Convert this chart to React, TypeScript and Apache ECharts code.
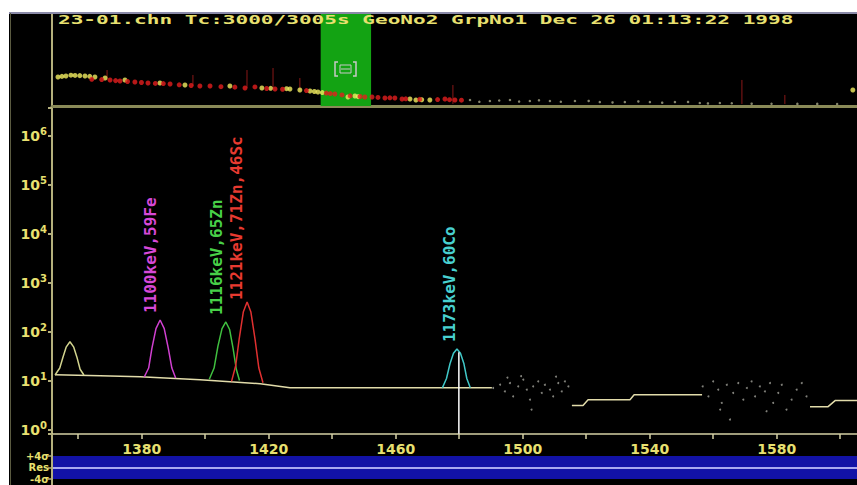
import React, { useEffect, useRef } from 'react';
import * as echarts from 'echarts';

// ---------- texts ----------
const headerText = '23-01.chn Tc:3000/3005s GeoNo2 GrpNo1 Dec 26 01:13:22 1998';
const peakLabels = ['1100keV,59Fe', '1116keV,65Zn', '1121keV,71Zn,46Sc', '1173keV,60Co'];

// ---------- axes ----------
const energyRange = [1351.75, 1605.3];
const overviewRange = [0, 4050];
const xTickValues = [1360, 1380, 1400, 1420, 1440, 1460, 1480, 1500, 1520, 1540, 1560, 1580, 1600];
const xLabelValues = [1380, 1420, 1460, 1500, 1540, 1580];
const countRange = [0.81, 3.67e6];
const residualTicks = [-4, 0, 4];
const residualLabels = ['-4σ', 'Res', '+4σ'];

// ---------- overview (whole spectrum) ----------
const ovYellow = [[30, 31.5], [50, 32.2], [70, 32.6], [95, 33.5], [116, 33.2], [140, 33.0], [166, 32.6], [190, 32.2], [216, 31.5], [267, 30.4], [367, 28.3], [543, 25.0], [669, 22.8], [895, 21.7], [1056, 19.6], [1100, 19.2], [1180, 18.8], [1197, 18.5], [1247, 17.4], [1298, 16.3], [1320, 15.8], [1338, 15.2], [1360, 14.6], [1489, 9.8], [1524, 10.9], [1540, 10.2], [1801, 7.6], [1831, 6.5], [1860, 6.8], [1901, 6.5], [4029, 17.4]];
const ovRed = [[200, 29.0], [250, 28.7], [292, 28.3], [320, 27.6], [342, 27.2], [380, 26.6], [417, 26.1], [450, 25.5], [483, 25.0], [520, 24.5], [560, 24.4], [594, 23.9], [640, 23.0], [700, 22.3], [744, 21.7], [795, 21.7], [850, 21.0], [920, 20.5], [971, 19.6], [1021, 20.7], [1080, 19.0], [1122, 18.5], [1160, 18.2], [1280, 16.8], [1380, 14.0], [1400, 13.5], [1423, 13.0], [1459, 12.0], [1500, 11.0], [1550, 10.3], [1574, 9.8], [1610, 9.8], [1640, 9.3], [1675, 8.7], [1700, 8.9], [1725, 8.7], [1761, 7.6], [1780, 7.8], [1850, 7.2], [1940, 7.0], [1977, 7.6], [2000, 6.9], [2027, 6.5], [2060, 6.3]];
const ovGray = [[2103, 6.5], [2150, 4.5], [2203, 5.4], [2250, 6.0], [2304, 6.5], [2350, 4.8], [2404, 5.4], [2450, 6.2], [2505, 5.4], [2560, 4.6], [2631, 5.4], [2700, 5.5], [2756, 4.3], [2820, 3.9], [2882, 4.3], [2950, 5.0], [3008, 4.3], [3070, 3.6], [3134, 4.3], [3200, 4.4], [3259, 3.3], [3300, 2.8], [3360, 3.3], [3420, 3.0], [3520, 2.5], [3620, 2.4], [3750, 2.3], [3850, 2.3], [3950, 2.2]];
const ovSpikes = [[277, 28.3, 39.1], [709, 21.7, 33.7], [981, 19.6, 39.1], [1112, 18.5, 41.3], [1247, 17.4, 30.4], [2017, 2.2, 22.8], [3471, 2.2, 28.3], [3687, 2.2, 12.0]];

// ---------- main spectrum ----------
const baseline = [[1352.7, 13.1], [1366.9, 12.5], [1379.5, 11.9], [1398.4, 10.4], [1407.8, 9.5], [1417.3, 8.6], [1426.7, 7.1], [1461.3, 7.1], [1490.3, 7.1]];
const peakA = [[1352.7, 13], [1354.2, 18], [1355.2, 30], [1356.2, 48], [1357.4, 62], [1358.6, 48], [1359.6, 30], [1360.6, 17], [1361.8, 13]];
const peakFe = [[1380.8, 11.8], [1382.2, 18], [1383.2, 45], [1384.5, 115], [1385.8, 172], [1387.1, 115], [1388.4, 45], [1389.5, 18], [1390.7, 11.3]];
const peakZn = [[1401.3, 10.6], [1402.8, 18], [1404.0, 50], [1405.3, 115], [1406.5, 157], [1407.7, 110], [1408.8, 45], [1409.8, 17], [1410.8, 10]];
const peakSc = [[1408.3, 9.6], [1409.6, 20], [1410.7, 70], [1412.0, 250], [1413.2, 400], [1414.4, 250], [1415.7, 70], [1416.9, 18], [1418.2, 9]];
const peakCo = [[1474.7, 7.1], [1476.0, 11], [1477.1, 22], [1478.2, 36], [1479.3, 44], [1480.4, 36], [1481.5, 22], [1482.4, 11], [1483.5, 7.1]];
const cursor = [[1479.9, 38], [1479.9, 0.82]];
const stepLine = [[1515.5, 3.1], [1519.0, 3.1], [1520.6, 4.07], [1533.8, 4.07], [1535.1, 5.15], [1556.5, 5.15], [1573, '-'], [1590.5, 2.93], [1596.2, 2.93], [1598.4, 3.9], [1605.3, 3.9]];
const noiseDots = [[1490.7, 7.04], [1492.9, 8.22], [1494.4, 6.0], [1495.2, 11.5], [1496.0, 8.9], [1497.0, 4.75], [1498.6, 7.6], [1499.5, 12.3], [1500.2, 10.4], [1501.3, 6.5], [1502.3, 4.07], [1502.8, 2.55], [1503.3, 7.6], [1504.9, 9.6], [1506.0, 5.57], [1507.0, 8.2], [1508.6, 6.5], [1509.6, 4.75], [1510.5, 12.0], [1511.2, 8.9], [1512.3, 6.0], [1513.3, 9.6], [1514.4, 7.6],
  [1556.7, 7.6], [1558.5, 4.75], [1560.0, 9.6], [1561.6, 6.5], [1562.2, 2.55], [1562.7, 3.49], [1564.3, 8.2], [1565.3, 1.6], [1566.3, 5.57], [1567.9, 8.9], [1569.5, 4.07], [1570.6, 7.04], [1572.1, 9.6], [1573.2, 4.75], [1574.7, 7.6], [1576.3, 6.0], [1576.8, 2.36], [1577.9, 8.9], [1578.9, 3.49], [1580.5, 5.57], [1581.6, 8.2], [1583.1, 2.55], [1584.7, 4.07], [1586.3, 6.5], [1587.9, 8.9], [1589.4, 4.75]];

const YELLOW = '#e8e070';
const AXIS = '#b4b07c';
const BASE = '#e2dcaa';

function apexOf(data: number[][]) {
  let best = data[0];
  for (const d of data) if (d[1] > best[1]) best = d;
  return best;
}

function peakMark(data: number[][], text: string, color: string, offset: number[]) {
  return {
    symbol: 'circle',
    symbolSize: 0,
    silent: true,
    data: [{
      coord: apexOf(data),
      label: {
        show: true,
        formatter: text,
        position: 'top',
        distance: 5,
        rotate: 90,
        align: 'left',
        verticalAlign: 'middle',
        offset,
        color,
        fontFamily: 'DejaVu Sans Mono',
        fontWeight: 'bold',
        fontSize: 16,
      },
    }],
  };
}

function lineSeries(data: any[], color: string, extra: any = {}) {
  return {
    type: 'line',
    xAxisIndex: 0,
    yAxisIndex: 0,
    data,
    showSymbol: false,
    symbol: 'none',
    lineStyle: { color, width: 1.5 },
    itemStyle: { color },
    z: 3,
    ...extra,
  };
}

const spikeData: any[] = [];
ovSpikes.forEach(([e, lo, hi]) => {
  spikeData.push([e, lo], [e, hi], [e, '-']);
});

const option: any = {
  animation: false,
  backgroundColor: '#ffffff',
  graphic: [
    { type: 'rect', shape: { x: 9, y: 12, width: 848, height: 473 }, style: { fill: '#000000' }, z: -100 },
    { type: 'line', shape: { x1: 9, y1: 13, x2: 857, y2: 13 }, style: { stroke: '#8a8aa8', lineWidth: 2 }, z: 50 },
    { type: 'line', shape: { x1: 10.5, y1: 13, x2: 10.5, y2: 485 }, style: { stroke: '#5a5a40', lineWidth: 1 }, z: 50 },
    { type: 'line', shape: { x1: 52, y1: 434, x2: 52, y2: 485 }, style: { stroke: AXIS, lineWidth: 2 }, z: 50 },
    {
      type: 'text', x: 58, y: 19.5, scaleX: 1.62, z: 100,
      style: { text: headerText, fill: YELLOW, font: 'bold 13px "DejaVu Sans Mono"', align: 'left', verticalAlign: 'middle' },
    },
    { type: 'polyline', shape: { points: [[338, 62], [335, 62], [335, 76], [338, 76]] }, style: { stroke: '#c8c8c8', lineWidth: 1.5, fill: 'none' }, z: 100 },
    { type: 'polyline', shape: { points: [[353, 62], [356, 62], [356, 76], [353, 76]] }, style: { stroke: '#c8c8c8', lineWidth: 1.5, fill: 'none' }, z: 100 },
    { type: 'rect', shape: { x: 340, y: 65, width: 11, height: 8 }, style: { stroke: '#c8c8c8', lineWidth: 1, fill: 'none' }, z: 100 },
    { type: 'line', shape: { x1: 341, y1: 69, x2: 350, y2: 69 }, style: { stroke: '#c8c8c8', lineWidth: 1 }, z: 100 },
  ],
  grid: [
    { left: 52, right: 0, top: 108, height: 326, outerBoundsMode: 'none' },
    { left: 52, right: 0, top: 14, height: 92, outerBoundsMode: 'none' },
    { left: 52, right: 0, top: 456, height: 23, outerBoundsMode: 'none' },
  ],
  xAxis: [
    {
      gridIndex: 0, type: 'value', min: energyRange[0], max: energyRange[1],
      axisLine: { show: true, onZero: false, lineStyle: { color: '#d4d0a4', width: 1.5 } },
      axisTick: { show: true, customValues: xTickValues, length: 5, lineStyle: { color: '#d4d0a4', width: 1.5 } },
      axisLabel: { customValues: xLabelValues, formatter: (v: number) => String(Math.round(v)), color: YELLOW, fontFamily: 'DejaVu Sans', fontWeight: 'bold', fontSize: 14, margin: 8 },
      splitLine: { show: false },
    },
    {
      gridIndex: 1, type: 'value', min: overviewRange[0], max: overviewRange[1],
      axisLine: { show: true, onZero: false, lineStyle: { color: '#8a8a58', width: 3 } },
      axisTick: { show: false }, axisLabel: { show: false }, splitLine: { show: false },
    },
    {
      gridIndex: 2, type: 'value', min: energyRange[0], max: energyRange[1],
      axisLine: { show: false }, axisTick: { show: false }, axisLabel: { show: false }, splitLine: { show: false },
    },
  ],
  yAxis: [
    {
      gridIndex: 0, type: 'log', min: countRange[0], max: countRange[1],
      axisLine: { show: true, onZero: false, lineStyle: { color: AXIS, width: 2 } },
      axisTick: { show: true, length: 4, lineStyle: { color: AXIS, width: 2 } },
      splitLine: { show: false },
      axisLabel: {
        margin: 5,
        formatter: (v: number) => {
          const l = Math.log10(v);
          const e = Math.round(l);
          if (Math.abs(l - e) > 1e-6) return '';
          return `{b|10}{e|${e}}`;
        },
        rich: {
          b: { color: YELLOW, fontFamily: 'DejaVu Sans', fontWeight: 'bold', fontSize: 14, lineHeight: 18 },
          e: { color: YELLOW, fontFamily: 'DejaVu Sans', fontWeight: 'bold', fontSize: 10, lineHeight: 10, verticalAlign: 'top' },
        },
      },
    },
    {
      gridIndex: 1, type: 'value', min: 0, max: 100,
      axisLine: { show: true, onZero: false, lineStyle: { color: AXIS, width: 2 } },
      axisTick: { show: false }, axisLabel: { show: false }, splitLine: { show: false },
    },
    {
      gridIndex: 2, type: 'value', min: residualTicks[0], max: residualTicks[2], interval: 4,
      axisLine: { show: true, onZero: false, lineStyle: { color: AXIS, width: 2 } },
      axisTick: { show: true, length: 4, lineStyle: { color: AXIS, width: 1.5 } },
      splitLine: { show: false },
      axisLabel: {
        margin: 3, color: YELLOW, fontFamily: 'DejaVu Sans', fontWeight: 'bold', fontSize: 10, lineHeight: 10,
        showMinLabel: true, showMaxLabel: true, hideOverlap: false,
        formatter: (v: number) => {
          const i = residualTicks.indexOf(Math.round(v));
          return i >= 0 ? residualLabels[i] : '';
        },
      },
    },
  ],
  series: [
    // overview
    {
      type: 'line', xAxisIndex: 1, yAxisIndex: 1, data: [], z: 1, symbol: 'none',
      markArea: { silent: true, itemStyle: { color: '#13a313' }, data: [[{ xAxis: energyRange[0] }, { xAxis: energyRange[1] }]] },
    },
    {
      type: 'line', xAxisIndex: 1, yAxisIndex: 1, data: spikeData, showSymbol: false, symbol: 'none',
      connectNulls: false, lineStyle: { color: '#8a1818', width: 1 }, z: 2,
    },
    { type: 'scatter', xAxisIndex: 1, yAxisIndex: 1, data: ovGray, symbolSize: 2.5, itemStyle: { color: '#a8a888' }, z: 3 },
    { type: 'scatter', xAxisIndex: 1, yAxisIndex: 1, data: ovYellow, symbolSize: 5, itemStyle: { color: '#f2ee60' }, z: 4 },
    { type: 'scatter', xAxisIndex: 1, yAxisIndex: 1, data: ovRed, symbolSize: 5, itemStyle: { color: '#e41e1e' }, z: 5 },
    // main spectrum
    lineSeries(baseline, BASE),
    lineSeries(peakA, '#d2d48e'),
    lineSeries(peakFe, '#d040d0', { markPoint: peakMark(peakFe, peakLabels[0], '#d848d8', [2, -10]) }),
    lineSeries(peakZn, '#40c040', { markPoint: peakMark(peakZn, peakLabels[1], '#48d048', [2, -9]) }),
    lineSeries(peakSc, '#e03030', { markPoint: peakMark(peakSc, peakLabels[2], '#e83a30', [-3, -11]) }),
    lineSeries(peakCo, '#40c8c8', { markPoint: peakMark(peakCo, peakLabels[3], '#48d0d0', [2, -7]) }),
    lineSeries(cursor, '#ffffff'),
    lineSeries(stepLine, BASE, { connectNulls: false }),
    { type: 'scatter', xAxisIndex: 0, yAxisIndex: 0, data: noiseDots, symbolSize: 2, itemStyle: { color: '#a0a098' }, z: 3 },
    // residual band
    {
      type: 'line', xAxisIndex: 2, yAxisIndex: 2, data: [], symbol: 'none', z: 2,
      markArea: { silent: true, itemStyle: { color: '#1212a6' }, data: [[{ yAxis: residualTicks[0] }, { yAxis: residualTicks[2] }]] },
      markLine: { silent: true, symbol: 'none', label: { show: false }, lineStyle: { color: '#a8a8f0', width: 2, type: 'solid' }, data: [{ yAxis: residualTicks[1] }] },
    },
  ],
};

export default function App() {
  const ref = useRef<HTMLDivElement>(null);
  useEffect(() => {
    const chart = echarts.init(ref.current!, null, { renderer: 'svg' });
    chart.setOption(option);
    return () => chart.dispose();
  }, []);
  return <div ref={ref} style={{ position: 'absolute', left: 0, top: 0, width: 857, height: 485 }} />;
}
